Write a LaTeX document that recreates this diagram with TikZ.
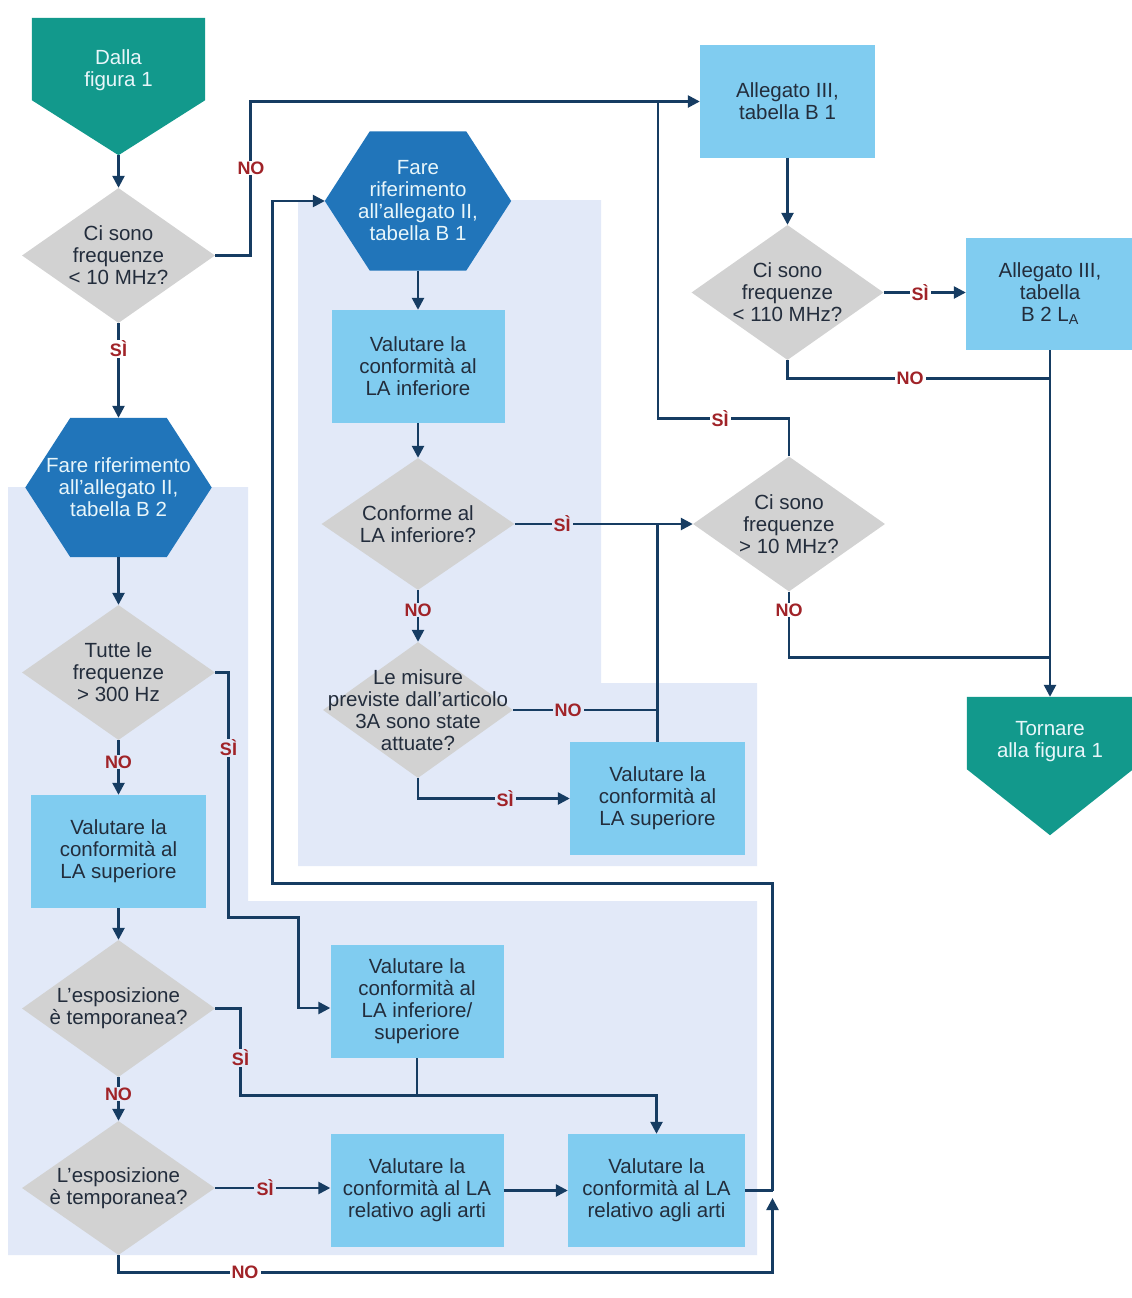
\documentclass[tikz,border=0pt]{standalone}
\usepackage{fontspec}
\setmainfont{Liberation Sans}
\usetikzlibrary{shapes.geometric,arrows.meta,backgrounds}

\definecolor{teal1}{RGB}{18,153,140}
\definecolor{hexblue}{RGB}{33,117,186}
\definecolor{boxblue}{RGB}{128,204,240}
\definecolor{dgray}{RGB}{210,210,210}
\definecolor{regionc}{RGB}{226,233,248}
\definecolor{lineblue}{RGB}{22,60,98}
\definecolor{lblred}{RGB}{160,35,40}
\definecolor{txtdark}{RGB}{35,45,60}
\definecolor{txtlight}{RGB}{232,246,250}

\begin{document}
\begin{tikzpicture}[x=1pt,y=-1pt,
 font=\fontsize{20.5}{22}\selectfont,
 box/.style={rectangle, fill=boxblue, text=txtdark, align=center, inner sep=0pt},
 dia/.style={diamond, fill=dgray, inner sep=0pt, minimum width=193pt, minimum height=135pt},
 dt/.style={align=center, text=txtdark, inner sep=0pt},
 hexn/.style={rectangle, text=txtlight, align=center, inner sep=0pt, minimum width=186pt, minimum height=139pt},
 pent/.style={rectangle, text=txtlight, inner sep=0pt},
 arr/.style={draw=lineblue, line width=2.5pt, -{Triangle[length=12pt,width=12pt]}},
 ln/.style={draw=lineblue, line width=2.5pt},
 lbl/.style={font=\fontsize{18}{18}\selectfont\bfseries, text=lblred, inner xsep=2pt, inner ysep=1pt},
 lw/.style={lbl, fill=white},
 lr/.style={lbl, fill=regionc},
]
\useasboundingbox (0,0) rectangle (1132,1298);

% ---------- nodes ----------
\node[pent] (start) at (118.5,86.5) {\begin{minipage}[c][137pt][t]{173pt}\centering\rule{0pt}{46pt}Dalla\\figura 1\end{minipage}};
\node[dia] (d1) at (118.5,255.5) {};
\node[dt] (d1t) at (d1) {Ci sono\\frequenze\\< 10 MHz?};
\node[hexn] (h2) at (118.5,487.5) {Fare riferimento\\all’allegato II,\\tabella B 2};
\node[dia] (d2) at (118.5,672.5) {};
\node[dt] (d2t) at (d2) {Tutte le\\frequenze\\> 300 Hz};
\node[box, minimum width=175pt, minimum height=113pt] (bsupL) at (118.5,851.5) {Valutare la\\conformità al\\LA superiore};
\node[dia, minimum height=137pt] (d3) at (118.5,1008.5) {};
\node[dt] (d3t) at (d3) {L’esposizione\\è temporanea?};
\node[dia, minimum height=134pt] (d4) at (118.5,1188) {};
\node[dt] (d4t) at (d4) {L’esposizione\\è temporanea?};
\node[box, minimum width=173pt, minimum height=113pt] (binfsup) at (417,1001.5) {Valutare la\\conformità al\\LA inferiore/\\superiore};
\node[box, minimum width=173pt, minimum height=113pt] (barti1) at (417,1190.5) {Valutare la\\conformità al LA\\relativo agli arti};
\node[box, minimum width=177pt, minimum height=113pt] (barti2) at (656.5,1190.5) {Valutare la\\conformità al LA\\relativo agli arti};

\node[hexn] (h1) at (418,201) {Fare\\riferimento\\all’allegato II,\\tabella B 1};
\node[box, minimum width=173pt, minimum height=113pt] (binf) at (418,366.5) {Valutare la\\conformità al\\LA inferiore};
\node[dia, minimum height=132pt] (d5) at (418,524) {};
\node[dt] (d5t) at (d5) {Conforme al\\LA inferiore?};
\node[dia, minimum width=190pt, minimum height=136pt] (d7) at (418,710) {};
\node[dt] (d7t) at (d7) {Le misure\\previste dall’articolo\\3A sono state\\attuate?};
\node[box, minimum width=175pt, minimum height=113pt] (bsupM) at (657.5,798.5) {Valutare la\\conformità al\\LA superiore};

\node[dia, minimum width=192pt] (d6) at (789,524) {};
\node[dt] (d6t) at (d6) {Ci sono\\frequenze\\> 10 MHz?};
\node[box, minimum width=175pt, minimum height=112pt] (a3b1) at (787.5,101.5) {Allegato III,\\tabella B 1};
\node[dia, minimum width=192pt] (d8) at (787.5,292.5) {};
\node[dt] (d8t) at (d8) {Ci sono\\frequenze\\< 110 MHz?};
\node[box, minimum width=168pt, minimum height=112pt] (a3b2) at (1050,294) {Allegato III,\\tabella\\B 2 L\textsubscript{A}};
\node[pent] (end) at (1050,766) {\begin{minipage}[c][138pt][t]{166pt}\centering\rule{0pt}{38pt}Tornare\\alla figura 1\end{minipage}};

% ---------- background ----------
\begin{scope}[on background layer]
 \fill[white] (0,0) rectangle (1132,1298);
 \fill[regionc] (298,200) -- (601,200) -- (601,683) -- (757,683) -- (757,866) -- (298,866) -- cycle;
 \fill[regionc] (8,487) -- (248,487) -- (248,901) -- (757,901) -- (757,1255) -- (8,1255) -- cycle;
 \foreach \h in {h1,h2}{
  \fill[hexblue] (\h.west) -- ([xshift=45pt]\h.north west) -- ([xshift=-45pt]\h.north east)
    -- (\h.east) -- ([xshift=-45pt]\h.south east) -- ([xshift=45pt]\h.south west) -- cycle;
 }
 \fill[teal1] (start.north west) -- (start.north east) -- ([yshift=55pt]start.south east)
   -- (start.south) -- ([yshift=55pt]start.south west) -- cycle;
 \fill[teal1] (end.north west) -- (end.north east) -- ([yshift=66pt]end.south east)
   -- (end.south) -- ([yshift=66pt]end.south west) -- cycle;
\end{scope}

% ---------- connectors ----------
\draw[arr] (start.south) -- (d1.north);
\draw[arr] (d1.east) -- (250.5,255.5) |- (a3b1.west);
\draw[arr] (d1.south) -- (h2.north);
\draw[arr] (h2.south) -- (d2.north);
\draw[arr] (d2.east) -- (228.5,672.5) -- (228.5,917.5) -- (298.5,917.5) |- ([yshift=-6.5pt]binfsup.west);
\draw[arr] (d2.south) -- (bsupL.north);
\draw[arr] (bsupL.south) -- (d3.north);
\draw[arr] (d3.east) -- (240.5,1008.5) -- (240.5,1095.5) -| (barti2.north);
\draw[ln] (binfsup.south) -- (417,1095.5);
\draw[arr] (d3.south) -- (d4.north);
\draw[arr] (d4.east) -- (d4.east -| barti1.west);
\draw[arr] (barti1.east) -- (barti2.west);
\coordinate (jr) at (772.5,1190.5);
\draw[ln] (barti2.east) -- (jr);
\draw[arr] (d4.south) -- (118.5,1272.5) -- (772.5,1272.5) -- (772.5,1198);
\draw[arr] (jr) -- (772.5,883.5) -- (272.5,883.5) |- (h1.west);

\draw[arr] (h1.south) -- (binf.north);
\draw[arr] (binf.south) -- (d5.north);
\draw[arr] (d5.east) -- (d6.west);
\draw[arr] (d5.south) -- (d7.north);
\draw[ln] (d7.east) -- (d7.east -| bsupM.north);
\draw[ln] (bsupM.north) -- (bsupM.north |- d5.east);
\draw[arr] (d7.south) |- (bsupM.west);

\draw[ln] (d6.north) -- (789,418.5) -- (658,418.5) -- (658,101.5);
\draw[ln] (d6.south) -- (789,657.5) -- (1050,657.5);
\draw[arr] (a3b1.south) -- (d8.north);
\draw[arr] (d8.east) -- (d8.east -| a3b2.west);
\draw[ln] (d8.south) |- (1050,378.5);
\draw[arr] (a3b2.south) -- (end.north);

% ---------- labels ----------
\node[lw] (l1) at (251,168) {NO};
\node[lw] (l2) at (118.5,349) {SÌ};
\node[lr] (l3) at (228.5,748) {SÌ};
\node[lr] (l4) at (118.5,762) {NO};
\node[lr] (l5) at (240.5,1058) {SÌ};
\node[lr] (l6) at (118.5,1094) {NO};
\node[lr] (l7) at (265,1188) {SÌ};
\node[lw] (l8) at (245,1272.5) {NO};
\node[lr] (l9) at (562,524) {SÌ};
\node[lr] (l10) at (418,610) {NO};
\node[lr] (l11) at (568,710) {NO};
\node[lr] (l12) at (505,798.5) {SÌ};
\node[lw] (l13) at (720,418.5) {SÌ};
\node[lw] (l14) at (789,610) {NO};
\node[lw] (l15) at (920,292.5) {SÌ};
\node[lw] (l16) at (910,378.5) {NO};
\end{tikzpicture}
\end{document}
